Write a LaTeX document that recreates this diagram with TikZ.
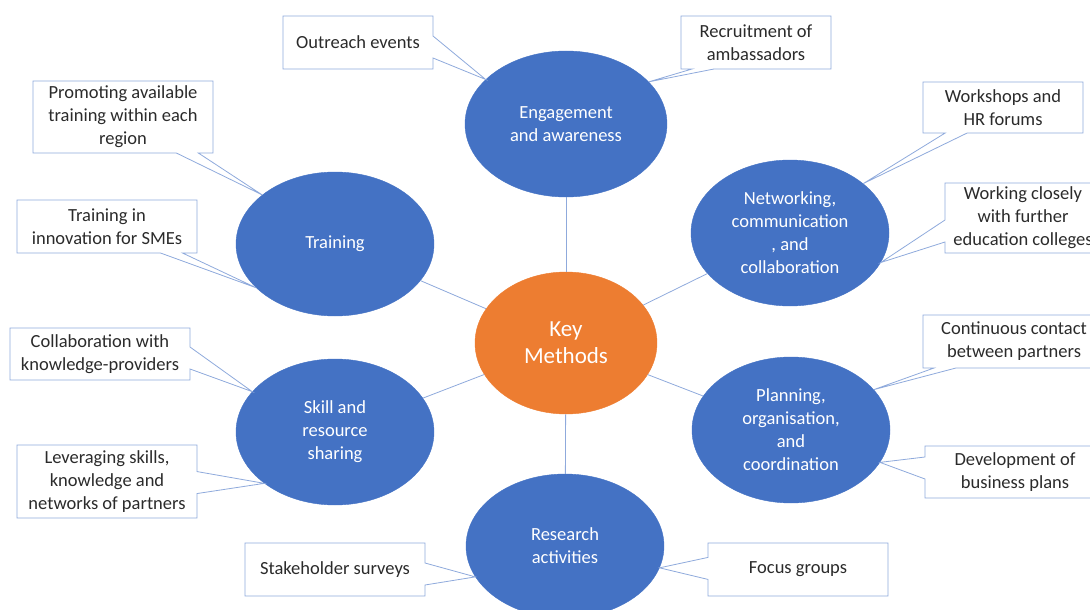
\documentclass[tikz,border=0pt]{standalone}
\usepackage{fontspec}
\setmainfont{Carlito}
\usetikzlibrary{shapes.geometric,shapes.callouts}
\definecolor{mblue}{HTML}{4472C4}
\definecolor{morange}{HTML}{ED7D31}
\definecolor{lline}{HTML}{8FAADC}
\definecolor{ctext}{HTML}{2B2B2B}
\tikzset{
  bub/.style={ellipse, fill=mblue, draw=mblue, inner sep=0pt, align=center,
    text=white, font=\fontsize{18.5}{23}\selectfont},
  keybub/.style={ellipse, fill=morange, draw=morange, inner sep=0pt, align=center,
    text=white, font=\fontsize{23}{27}\selectfont},
  conn/.style={draw=lline, line width=0.8pt},
  note/.style={rectangle callout, draw=lline, fill=white, line width=0.8pt,
    align=center, text=ctext, inner sep=1pt, callout pointer width=22pt,
    font=\fontsize{18.5}{23}\selectfont}
}
\begin{document}
\begin{tikzpicture}[x=1pt,y=-1pt]
\useasboundingbox (0,0) rectangle (1090,610);
% bubbles
\node[bub, minimum width=202pt, minimum height=146pt] (eng) at (566,124) {Engagement\\and awareness};
\node[bub, minimum width=198pt, minimum height=144pt] (tra) at (335,244) {Training};
\node[bub, minimum width=198pt, minimum height=146pt] (net) at (790,233) {Networking,\\communication\\, and\\collaboration};
\node[keybub, minimum width=182pt, minimum height=142pt] (key) at (566,343) {Key\\Methods};
\node[bub, minimum width=198pt, minimum height=146pt] (ski) at (335,432) {Skill and\\resource\\sharing};
\node[bub, minimum width=198pt, minimum height=146pt] (pla) at (791,430) {Planning,\\organisation,\\and\\coordination};
\node[bub, minimum width=198pt, minimum height=144pt] (res) at (565,546) {Research\\activities};
% connectors
\draw[conn] (key) -- (eng);
\draw[conn] (key) -- (tra);
\draw[conn] (key) -- (net);
\draw[conn] (key) -- (ski);
\draw[conn] (key) -- (pla);
\draw[conn] (key) -- (res);
% callouts
\node[note, minimum width=150pt, minimum height=53pt, callout absolute pointer={(eng.151)}] (c1) at (358,42.5) {Outreach events};
\node[note, minimum width=150pt, minimum height=53pt, callout absolute pointer={(eng.27)}] (c2) at (756,42.5) {Recruitment of\\ambassadors};
\node[note, minimum width=180pt, minimum height=72pt, callout absolute pointer={(tra.146)}] (c3) at (123,117) {Promoting available\\training within each\\region};
\node[note, minimum width=180pt, minimum height=53pt, callout absolute pointer={(tra.209)}] (c4) at (107,226.5) {Training in\\innovation for SMEs};
\node[note, minimum width=160pt, minimum height=51pt, callout absolute pointer={(net.34)}] (c5) at (1003,107.5) {Workshops and\\HR forums};
\node[note, minimum width=156pt, minimum height=70pt, callout absolute pointer={(net.342)}] (c6) at (1023,218) {Working closely\\with further\\education colleges};
\node[note, minimum width=182pt, minimum height=53pt, callout absolute pointer={(pla.26)}] (c7) at (1014,341.5) {Continuous contact\\between partners};
\node[note, minimum width=180pt, minimum height=52pt, callout absolute pointer={(pla.340)}] (c8) at (1015,472) {Development of\\business plans};
\node[note, minimum width=180pt, minimum height=52pt, callout absolute pointer={(ski.154)}] (c9) at (100,354) {Collaboration with\\knowledge-providers};
\node[note, minimum width=180pt, minimum height=73pt, callout absolute pointer={(ski.216)}] (c10) at (107,481.5) {Leveraging skills,\\knowledge and\\networks of partners};
\node[note, minimum width=180pt, minimum height=53pt, callout absolute pointer={(res.199)}] (c11) at (335,569.5) {Stakeholder surveys};
\node[note, minimum width=180pt, minimum height=53pt, callout absolute pointer={(res.347)}] (c12) at (798,569.5) {Focus groups};
\end{tikzpicture}
\end{document}
